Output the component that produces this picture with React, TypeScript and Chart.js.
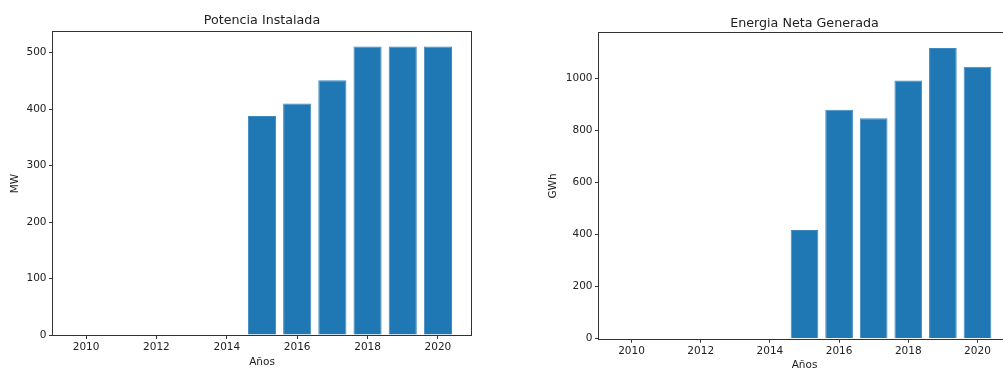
import { useEffect, useRef } from "react";
import { Chart, registerables } from "chart.js";

Chart.register(...registerables);

const years = [2010, 2011, 2012, 2013, 2014, 2015, 2016, 2017, 2018, 2019, 2020];
const potenciaMW = [0, 0, 0, 0, 0, 388, 410, 451, 511, 511, 511];
const energiaGWh = [0, 0, 0, 0, 0, 418, 880, 848, 993, 1118, 1046];
const xTicks = [2010, 2012, 2014, 2016, 2018, 2020];
const potenciaTicks = [0, 100, 200, 300, 400, 500];
const energiaTicks = [0, 200, 400, 600, 800, 1000];

const FONT = "'DejaVu Sans', sans-serif";
const TEXT = "#222";
const BAR = "#1f77b4";

const framePlugin = {
  id: "frame",
  afterDatasetsDraw(chart: any) {
    const { ctx, chartArea: a } = chart;
    ctx.save();
    ctx.strokeStyle = "#333";
    ctx.lineWidth = 1;
    const l = Math.round(a.left) - 0.5;
    const t = Math.round(a.top) - 0.5;
    const r = Math.round(a.right) + 0.5;
    const b = Math.round(a.bottom) + 0.5;
    ctx.strokeRect(l, t, r - l, b - t);
    ctx.restore();
  },
};

type Spec = {
  values: number[];
  yTicks: number[];
  yMax: number;
  title: string;
  yLabel: string;
  yWidth: number;
  xHeight: number;
  padRight: number;
  titlePad: { top: number; bottom: number };
  yTitlePad: number;
  xTitlePad: number;
};

function makeConfig(s: Spec): any {
  return {
    type: "bar",
    data: {
      datasets: [
        {
          data: years.map((y, i) => ({ x: y, y: s.values[i] })),
          backgroundColor: BAR,
          borderColor: "#3f89c0",
          borderWidth: 1,
          borderSkipped: "bottom",
          barPercentage: 0.8,
          categoryPercentage: 1,
        },
      ],
    },
    options: {
      animation: false,
      responsive: false,
      devicePixelRatio: 1,
      layout: { padding: { left: 0, right: s.padRight, top: 0, bottom: 0 } },
      plugins: {
        legend: { display: false },
        tooltip: { enabled: false },
        title: {
          display: true,
          text: s.title,
          fullSize: false,
          color: TEXT,
          font: { family: FONT, size: 12.7, weight: "normal", lineHeight: 1.2 },
          padding: s.titlePad,
        },
      },
      scales: {
        x: {
          type: "linear",
          min: 2009.06,
          max: 2020.94,
          offset: false,
          afterBuildTicks: (axis: any) => {
            axis.ticks = xTicks.map((v) => ({ value: v }));
          },
          afterFit: (scale: any) => {
            scale.height = s.xHeight;
          },
          grid: {
            drawOnChartArea: false,
            drawTicks: true,
            tickLength: 4,
            tickColor: "#333",
            tickWidth: 1,
            offset: false,
          },
          border: { display: false },
          ticks: {
            color: TEXT,
            font: { family: FONT, size: 10.5, lineHeight: 1.2 },
            padding: 2,
            maxRotation: 0,
            autoSkip: false,
            callback: (v: any) => String(v),
          },
          title: {
            display: true,
            text: "Años",
            color: TEXT,
            font: { family: FONT, size: 10.5, lineHeight: 1.2 },
            padding: { top: 0, bottom: s.xTitlePad },
          },
        },
        y: {
          type: "linear",
          min: 0,
          max: s.yMax,
          afterBuildTicks: (axis: any) => {
            axis.ticks = s.yTicks.map((v) => ({ value: v }));
          },
          afterFit: (scale: any) => {
            scale.width = s.yWidth;
          },
          grid: {
            drawOnChartArea: false,
            drawTicks: true,
            tickLength: 4,
            tickColor: "#333",
            tickWidth: 1,
          },
          border: { display: false },
          ticks: {
            color: TEXT,
            font: { family: FONT, size: 10.5, lineHeight: 1.2 },
            padding: 2.5,
            autoSkip: false,
            callback: (v: any) => String(v),
          },
          title: {
            display: true,
            text: s.yLabel,
            color: TEXT,
            font: { family: FONT, size: 10.5, lineHeight: 1.2 },
            padding: { top: s.yTitlePad, bottom: 0 },
          },
        },
      },
    },
    plugins: [framePlugin],
  };
}

function ChartCanvas(props: { spec: Spec; left: number; width: number; height: number }) {
  const ref = useRef<HTMLCanvasElement | null>(null);
  useEffect(() => {
    if (!ref.current) return;
    const chart = new Chart(ref.current, makeConfig(props.spec));
    return () => chart.destroy();
  }, []);
  return (
    <canvas
      ref={ref}
      width={props.width}
      height={props.height}
      style={{
        position: "absolute",
        left: props.left,
        top: 0,
        width: props.width,
        height: props.height,
        display: "block",
      }}
    />
  );
}

const leftSpec: Spec = {
  values: potenciaMW,
  yTicks: potenciaTicks,
  yMax: 536.5,
  title: "Potencia Instalada",
  yLabel: "MW",
  yWidth: 53,
  xHeight: 34,
  padRight: 29,
  titlePad: { top: 13.4, bottom: 3.4 },
  yTitlePad: 8.7,
  xTitlePad: 0.7,
};

const rightSpec: Spec = {
  values: energiaGWh,
  yTicks: energiaTicks,
  yMax: 1174,
  title: "Energia Neta Generada",
  yLabel: "GWh",
  yWidth: 69,
  xHeight: 41.3,
  padRight: 20,
  titlePad: { top: 15.7, bottom: 2.4 },
  yTitlePad: 16.7,
  xTitlePad: 8.5,
};

export default function App() {
  return (
    <div
      style={{
        position: "absolute",
        left: 0,
        top: 0,
        width: 1003,
        height: 369,
        overflow: "hidden",
        background: "#fff",
      }}
    >
      <ChartCanvas spec={leftSpec} left={0} width={500} height={369} />
      <ChartCanvas spec={rightSpec} left={530} width={500} height={380} />
    </div>
  );
}
